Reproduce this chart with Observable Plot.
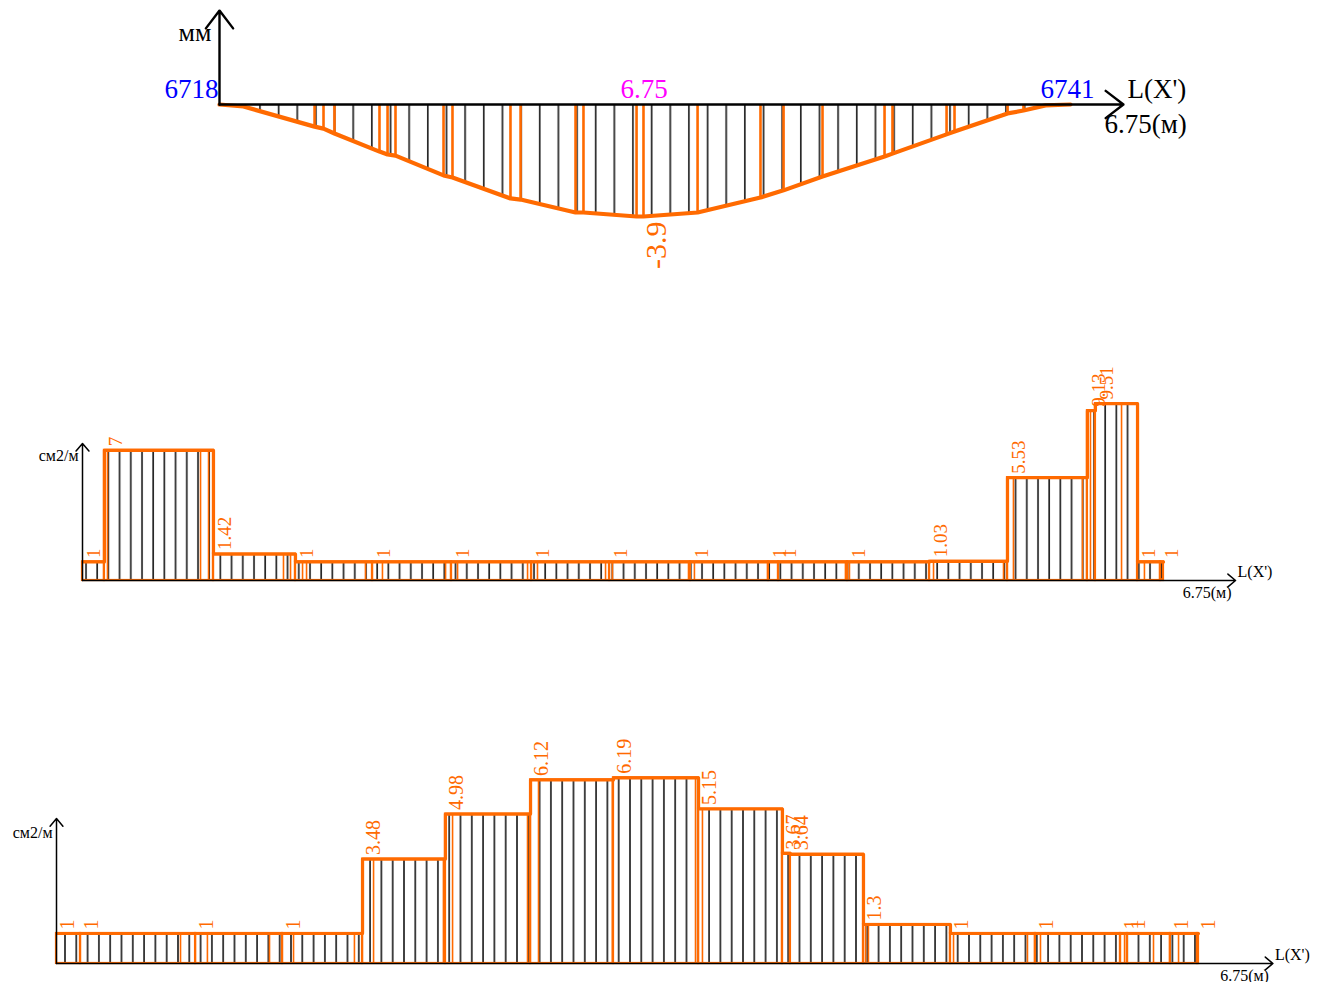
<!DOCTYPE html>
<html><head><meta charset="utf-8">
<script src="https://cdn.jsdelivr.net/npm/d3@7"></script>
<script src="https://cdn.jsdelivr.net/npm/@observablehq/plot@0.6"></script>
<style>
body{margin:0;background:#fff;width:1325px;height:982px;position:relative;overflow:hidden;font-family:"Liberation Serif",serif}
.panel{position:absolute;left:0}
</style></head><body>
<div id="top" class="panel" style="top:0px"></div>
<div id="mid" class="panel" style="top:340px"></div>
<div id="bot" class="panel" style="top:700px"></div>
<script>
// ---------- data ----------
const span = 6.75;                 // m
const nodeStart = "6718";
const nodeEnd = "6741";
const spanText = "6.75";
const deflUnit = "мм";
const areaUnit = "см2/м";
const axisName = "L(X')";
const axisLen = "6.75(м)";
const minDefl = -3.9;

// deflection diagram (x in m, deflection in mm)
const deflX = [0, 0.19, 0.754, 0.825, 0.912, 1.269, 1.333, 1.396, 1.777, 1.848, 2.308, 2.388, 2.824, 2.887, 3.308, 3.363, 3.792, 4.291, 4.474, 4.783, 5.275, 5.338, 5.767, 5.830, 6.251, 6.377, 6.552, 6.75];
const deflY = [0, -0.07, -0.77, -0.84, -1.01, -1.64, -1.74, -1.78, -2.47, -2.54, -3.27, -3.31, -3.76, -3.76, -3.90, -3.90, -3.76, -3.24, -2.99, -2.51, -1.81, -1.71, -1.04, -0.94, -0.31, -0.21, -0.03, 0];

// reinforcement diagram 1 (cm2/m)
const midStart = [0, 0.137, 0.818, 1.330, 1.811, 2.304, 2.804, 3.291, 3.796, 4.283, 4.346, 4.777, 5.289, 5.776, 6.275, 6.325, 6.588, 6.731];
const midValue = [1, 7, 1.42, 1, 1, 1, 1, 1, 1, 1, 1, 1, 1.03, 5.53, 9.13, 9.51, 1, 1];
const midInnerX = [0.156, 0.737, 0.787, 1.255, 1.299, 1.374, 1.399, 1.767, 1.873, 2.267, 2.342, 2.779, 2.841, 3.266, 3.309, 3.784, 3.821, 4.764, 4.789, 5.314, 5.751, 5.813, 6.244, 6.294, 6.488, 6.631];
const midInnerV = [7, 7, 7, 1.42, 1.42, 1, 1, 1, 1, 1, 1, 1, 1, 1, 1, 1, 1, 1, 1, 1.03, 1.03, 5.53, 5.53, 9.13, 9.51, 1];

// reinforcement diagram 2 (cm2/m)
const botStart = [0, 0.142, 0.822, 1.336, 1.809, 2.299, 2.802, 3.292, 3.795, 4.291, 4.338, 4.770, 5.284, 5.786, 6.289, 6.330, 6.584, 6.744];
const botValue = [1, 1, 1, 1, 3.48, 4.98, 6.12, 6.19, 5.15, 3.67, 3.64, 1.3, 1, 1, 1, 1, 1, 1];
const botInnerX = [0.733, 0.892, 1.259, 1.401, 1.761, 1.874, 2.287, 2.341, 2.784, 2.849, 3.286, 3.777, 3.818, 4.782, 4.799, 5.302, 5.739, 5.816, 6.313, 6.484, 6.632];
const botInnerV = [1, 1, 1, 1, 1, 3.48, 3.48, 4.98, 4.98, 6.12, 6.12, 6.19, 5.15, 1.3, 1.3, 1, 1, 1, 1, 1, 1];

// ---------- helpers ----------
const ORANGE = "#ff6a00";
const FONT = '"Liberation Serif", "Times New Roman", serif';
function addHatch(svg, id, step, offset) {
  const ns = "http://www.w3.org/2000/svg";
  const defs = document.createElementNS(ns, "defs");
  const p = document.createElementNS(ns, "pattern");
  p.setAttribute("id", id);
  p.setAttribute("patternUnits", "userSpaceOnUse");
  p.setAttribute("width", step);
  p.setAttribute("height", 20);
  const l = document.createElementNS(ns, "line");
  l.setAttribute("x1", offset); l.setAttribute("x2", offset);
  l.setAttribute("y1", 0); l.setAttribute("y2", 20);
  l.setAttribute("stroke", "#262626");
  l.setAttribute("stroke-width", 1.7);
  p.appendChild(l); defs.appendChild(p);
  svg.insertBefore(defs, svg.firstChild);
}
const baseStyle = {fontFamily: FONT, background: "transparent", overflow: "visible"};

// ---------- top: deflection ----------
const defl = deflX.map((x, i) => ({x, y: deflY[i]}));
const deflInner = defl.slice(2, defl.length - 2);
const topSvg = Plot.plot({
  width: 1325, height: 290,
  marginLeft: 219, marginRight: 255, marginTop: 104, marginBottom: 74,
  x: {domain: [0, span], axis: null},
  y: {domain: [minDefl, 0], axis: null},
  style: baseStyle,
  marks: [
    Plot.areaY(defl, {x: "x", y: "y", fill: "url(#hatchTop)"}),
    Plot.ruleX(deflInner, {x: "x", y1: 0, y2: "y", stroke: ORANGE, strokeWidth: 2.6}),
    Plot.line(defl, {x: "x", y: "y", stroke: ORANGE, strokeWidth: 4.2}),
    Plot.arrow([0], {x1: 0, y1: 0, x2: 7.17, y2: 0, stroke: "#000", strokeWidth: 2.4, headLength: 14, headAngle: 75}),
    Plot.arrow([0], {x1: 0, y1: 0, x2: 0, y2: 3.27, stroke: "#000", strokeWidth: 2.4, headLength: 14, headAngle: 75}),
    Plot.text([deflUnit], {x: 0, y: 0, text: d => d, dx: -8, dy: -64, textAnchor: "end", lineAnchor: "bottom", fontSize: 26, fill: "#000"}),
    Plot.text([nodeStart], {x: 0, y: 0, text: d => d, dx: -1, dy: -7, textAnchor: "end", lineAnchor: "bottom", fontSize: 27, fill: "#0000ff"}),
    Plot.text([spanText], {x: span / 2, y: 0, text: d => d, dx: -1, dy: -7, textAnchor: "middle", lineAnchor: "bottom", fontSize: 27, fill: "#ff00ff"}),
    Plot.text([nodeEnd], {x: span, y: 0, text: d => d, dx: -3, dy: -7, textAnchor: "middle", lineAnchor: "bottom", fontSize: 27, fill: "#0000ff"}),
    Plot.text([axisName], {x: 0, y: 0, text: d => d, dx: 908, dy: -7, textAnchor: "start", lineAnchor: "bottom", fontSize: 27, fill: "#000"}),
    Plot.text([axisLen], {x: 0, y: 0, text: d => d, dx: 885, dy: 28, textAnchor: "start", lineAnchor: "bottom", fontSize: 27, fill: "#000"}),
    Plot.text([minDefl], {x: span / 2, y: minDefl, text: d => String(d), rotate: -90, dx: 11, dy: 5, textAnchor: "end", lineAnchor: "middle", fontSize: 30, fill: ORANGE})
  ]
});
addHatch(topSvg, "hatchTop", 18.65, 17.5);
document.getElementById("top").appendChild(topSvg);

// ---------- stepped diagrams ----------
function stepPlot(starts, values, innerX, innerV, opts) {
  const segs = starts.map((x1, i) => ({x1, x2: i < starts.length - 1 ? starts[i + 1] : span, v: values[i]}));
  const steps = segs.map(d => ({x: d.x1, v: d.v})).concat([{x: span, v: values[values.length - 1]}]);
  const inner = innerX.map((x, i) => ({x, v: innerV[i]}));
  const svg = Plot.plot({
    width: 1325, height: opts.height,
    marginLeft: opts.left, marginRight: opts.right, marginTop: opts.top, marginBottom: opts.bottom,
    x: {domain: [0, span], axis: null},
    y: {domain: [0, opts.ymax], axis: null},
    style: baseStyle,
    marks: [
      Plot.rect(segs, {x1: "x1", x2: "x2", y1: 0, y2: "v", fill: `url(#${opts.hatch})`, stroke: ORANGE, strokeWidth: 2.2}),
      Plot.ruleX(inner, {x: "x", y1: 0, y2: "v", stroke: ORANGE, strokeWidth: 1.6}),
      Plot.line(steps, {x: "x", y: "v", curve: "step-after", stroke: ORANGE, strokeWidth: 3.2}),
      Plot.text(segs, {x: "x1", y: "v", text: d => String(d.v), rotate: -90, dx: 11, dy: -4, textAnchor: "start", lineAnchor: "middle", fontSize: opts.labelSize, fill: ORANGE}),
      Plot.arrow([0], {x1: 0, y1: 0, x2: opts.xArrow, y2: 0, stroke: "#000", strokeWidth: 1.5, headLength: 10, headAngle: 80}),
      Plot.arrow([0], {x1: 0, y1: 0, x2: 0, y2: opts.yArrow, stroke: "#000", strokeWidth: 1.5, headLength: 10, headAngle: 80}),
      Plot.text([areaUnit], {x: 0, y: opts.unitY, text: d => d, dx: -4, textAnchor: "end", lineAnchor: "bottom", fontSize: opts.textSize, fill: "#000"}),
      Plot.text([axisName], {x: opts.xArrow, y: 0, text: d => d, dx: 2, dy: -4, textAnchor: "start", lineAnchor: "bottom", fontSize: opts.textSize, fill: "#000"}),
      Plot.text([axisLen], {x: opts.xArrow, y: 0, text: d => d, dx: -4, dy: 17, textAnchor: "end", lineAnchor: "bottom", fontSize: opts.textSize, fill: "#000"})
    ]
  });
  addHatch(svg, opts.hatch, opts.step, opts.offset);
  return svg;
}

document.getElementById("mid").appendChild(stepPlot(midStart, midValue, midInnerX, midInnerV, {
  height: 270, left: 82, right: 162, top: 54, bottom: 30, ymax: 10,
  hatch: "hatchMid", step: 11.2, offset: 7.6, labelSize: 19, textSize: 16,
  xArrow: 7.2, yArrow: 7.37, unitY: 6.4
}));

document.getElementById("bot").appendChild(stepPlot(botStart, botValue, botInnerX, botInnerV, {
  height: 282, left: 56, right: 127, top: 53, bottom: 19, ymax: 7,
  hatch: "hatchBot", step: 11.3, offset: 8.5, labelSize: 20, textSize: 16,
  xArrow: 7.19, yArrow: 4.83, unitY: 4.17
}));
</script>
</body></html>
